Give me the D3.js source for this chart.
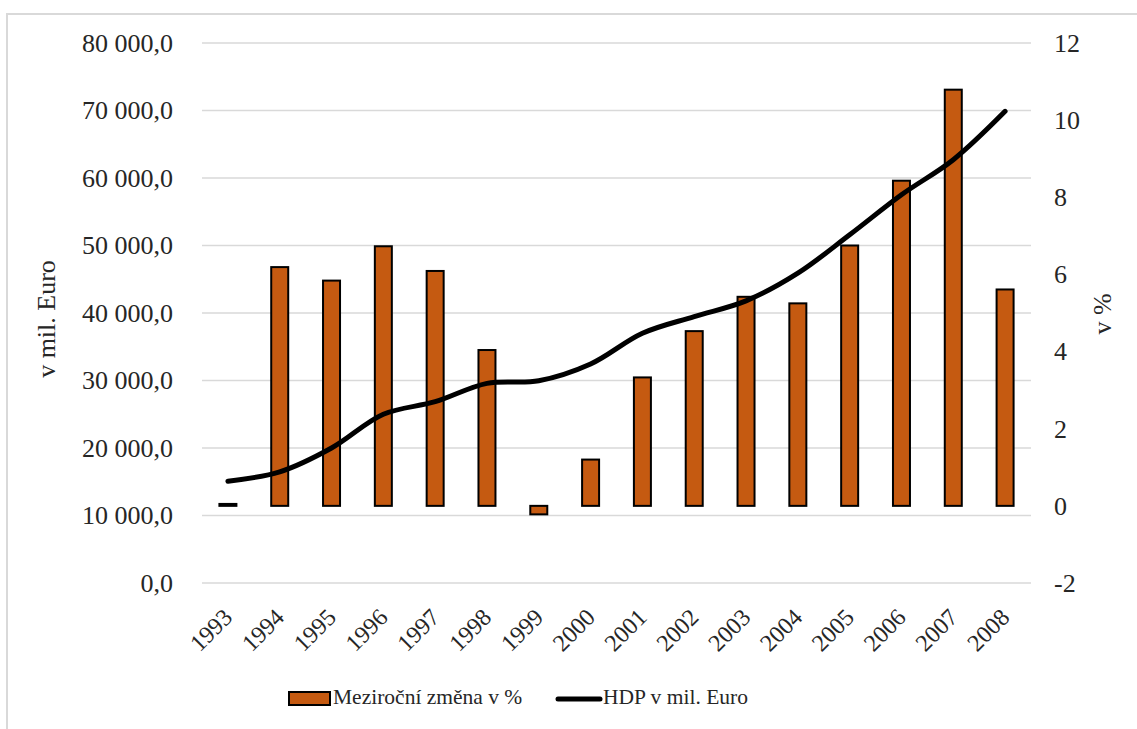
<!DOCTYPE html>
<html>
<head>
<meta charset="utf-8">
<script src="https://cdn.jsdelivr.net/npm/d3@7"></script>
<style>
  html, body { margin: 0; padding: 0; background: #fff; }
  svg { display: block; font-family: "Liberation Serif", "Times New Roman", serif; }
  svg text { font-family: "Liberation Serif", "Times New Roman", serif; }
</style>
</head>
<body>
<svg id="chart" width="1137" height="729"></svg>
<script>
// Roky
const years = ["1993","1994","1995","1996","1997","1998","1999","2000","2001","2002","2003","2004","2005","2006","2007","2008"];
// Meziroční změna v % (pravá osa)
const changePct = [0.05, 6.19, 5.84, 6.73, 6.09, 4.04, -0.22, 1.2, 3.33, 4.53, 5.42, 5.25, 6.75, 8.43, 10.79, 5.61];
// HDP v mil. Euro (levá osa)
const gdp = [15090, 16470, 20000, 25000, 26860, 29580, 29970, 32450, 37000, 39470, 41800, 45900, 51590, 57520, 62710, 69880];
// Popisky os
const leftTicks = [0, 10000, 20000, 30000, 40000, 50000, 60000, 70000, 80000];
const rightTicks = [-2, 0, 2, 4, 6, 8, 10, 12];
const seriesNames = ["Meziroční změna v %", "HDP v mil. Euro"];

const svg = d3.select("#chart");
const plot = { left: 202, right: 1031, top: 43, bottom: 583 };
const textColor = "#262626";
const serif = "Liberation Serif";

// outer frame
svg.append("rect")
  .attr("x", 7).attr("y", 14).attr("width", 1140).attr("height", 730)
  .attr("fill", "none").attr("stroke", "#d9d9d9").attr("stroke-width", 2);

const x = d3.scaleBand().domain(years).range([plot.left, plot.right]).paddingInner(0).paddingOuter(0);
const yL = d3.scaleLinear().domain([0, 80000]).range([plot.bottom, plot.top]);
const yR = d3.scaleLinear().domain([-2, 12]).range([plot.bottom, plot.top]);

const fmtCz = v => d3.format(",.1f")(v).replace(/,/g, " ").replace(".", ",");
const fmtInt = v => String(v);

// gridlines (left axis ticks)
svg.append("g")
  .selectAll("line").data(leftTicks).join("line")
  .attr("x1", plot.left).attr("x2", plot.right)
  .attr("y1", d => yL(d)).attr("y2", d => yL(d))
  .attr("stroke", "#d9d9d9").attr("stroke-width", 1.5);

// left axis
const axL = svg.append("g").attr("transform", `translate(${plot.left - 29},0)`)
  .call(d3.axisLeft(yL).tickValues(leftTicks).tickFormat(fmtCz).tickSize(0).tickPadding(0));
axL.attr("font-family", serif);
axL.select(".domain").remove();
axL.selectAll("text").attr("font-size", 26).attr("fill", textColor);

// right axis
const axR = svg.append("g").attr("transform", `translate(${plot.right + 23},0)`)
  .call(d3.axisRight(yR).tickValues(rightTicks).tickFormat(fmtInt).tickSize(0).tickPadding(0));
axR.attr("font-family", serif);
axR.select(".domain").remove();
axR.selectAll("text").attr("font-size", 26).attr("fill", textColor);

// axis titles
svg.append("text")
  .attr("transform", "translate(55,319) rotate(-90)")
  .attr("text-anchor", "middle").attr("font-size", 26).attr("fill", textColor)
  .attr("font-family", serif)
  .text("v mil. Euro");
svg.append("text")
  .attr("transform", "translate(1111,314) rotate(-90)")
  .attr("text-anchor", "middle").attr("font-size", 26).attr("fill", textColor)
  .attr("font-family", serif)
  .text("v %");

// category labels
const axX = svg.append("g").attr("transform", `translate(0,${plot.bottom})`)
  .call(d3.axisBottom(x).tickSize(0).tickPadding(0));
axX.attr("font-family", serif);
axX.select(".domain").remove();
axX.selectAll("text")
  .attr("font-size", 24).attr("fill", textColor)
  .attr("text-anchor", "end")
  .attr("dy", null).attr("y", null)
  .attr("transform", "translate(2,32) rotate(-45)")
  .attr("dominant-baseline", "middle");

// bars
const barW = 17;
svg.append("g")
  .selectAll("rect").data(years).join("rect")
  .attr("x", d => x(d) + x.bandwidth() / 2 - barW / 2)
  .attr("width", barW)
  .attr("y", (d, i) => Math.min(yR(changePct[i]), yR(0)))
  .attr("height", (d, i) => Math.abs(yR(changePct[i]) - yR(0)))
  .attr("fill", "#c55a11").attr("stroke", "#000").attr("stroke-width", 2);

// GDP line
const line = d3.line()
  .x((d, i) => x(years[i]) + x.bandwidth() / 2)
  .y(d => yL(d))
  .curve(d3.curveCatmullRom.alpha(0.5));
svg.append("path").datum(gdp)
  .attr("d", line).attr("fill", "none")
  .attr("stroke", "#000").attr("stroke-width", 5).attr("stroke-linecap", "round").attr("stroke-linejoin", "round");

// legend
const lg = svg.append("g").attr("font-family", serif);
lg.append("rect").attr("x", 289).attr("y", 692).attr("width", 41).attr("height", 13)
  .attr("fill", "#c55a11").attr("stroke", "#000").attr("stroke-width", 2);
lg.append("text").attr("x", 333).attr("y", 699).attr("dominant-baseline", "middle")
  .attr("font-size", 21.5).attr("fill", textColor).text(seriesNames[0]);
lg.append("line").attr("x1", 558).attr("x2", 600).attr("y1", 699).attr("y2", 699)
  .attr("stroke", "#000").attr("stroke-width", 5).attr("stroke-linecap", "round");
lg.append("text").attr("x", 603).attr("y", 699).attr("dominant-baseline", "middle")
  .attr("font-size", 21.5).attr("fill", textColor).text(seriesNames[1]);
</script>
</body>
</html>
